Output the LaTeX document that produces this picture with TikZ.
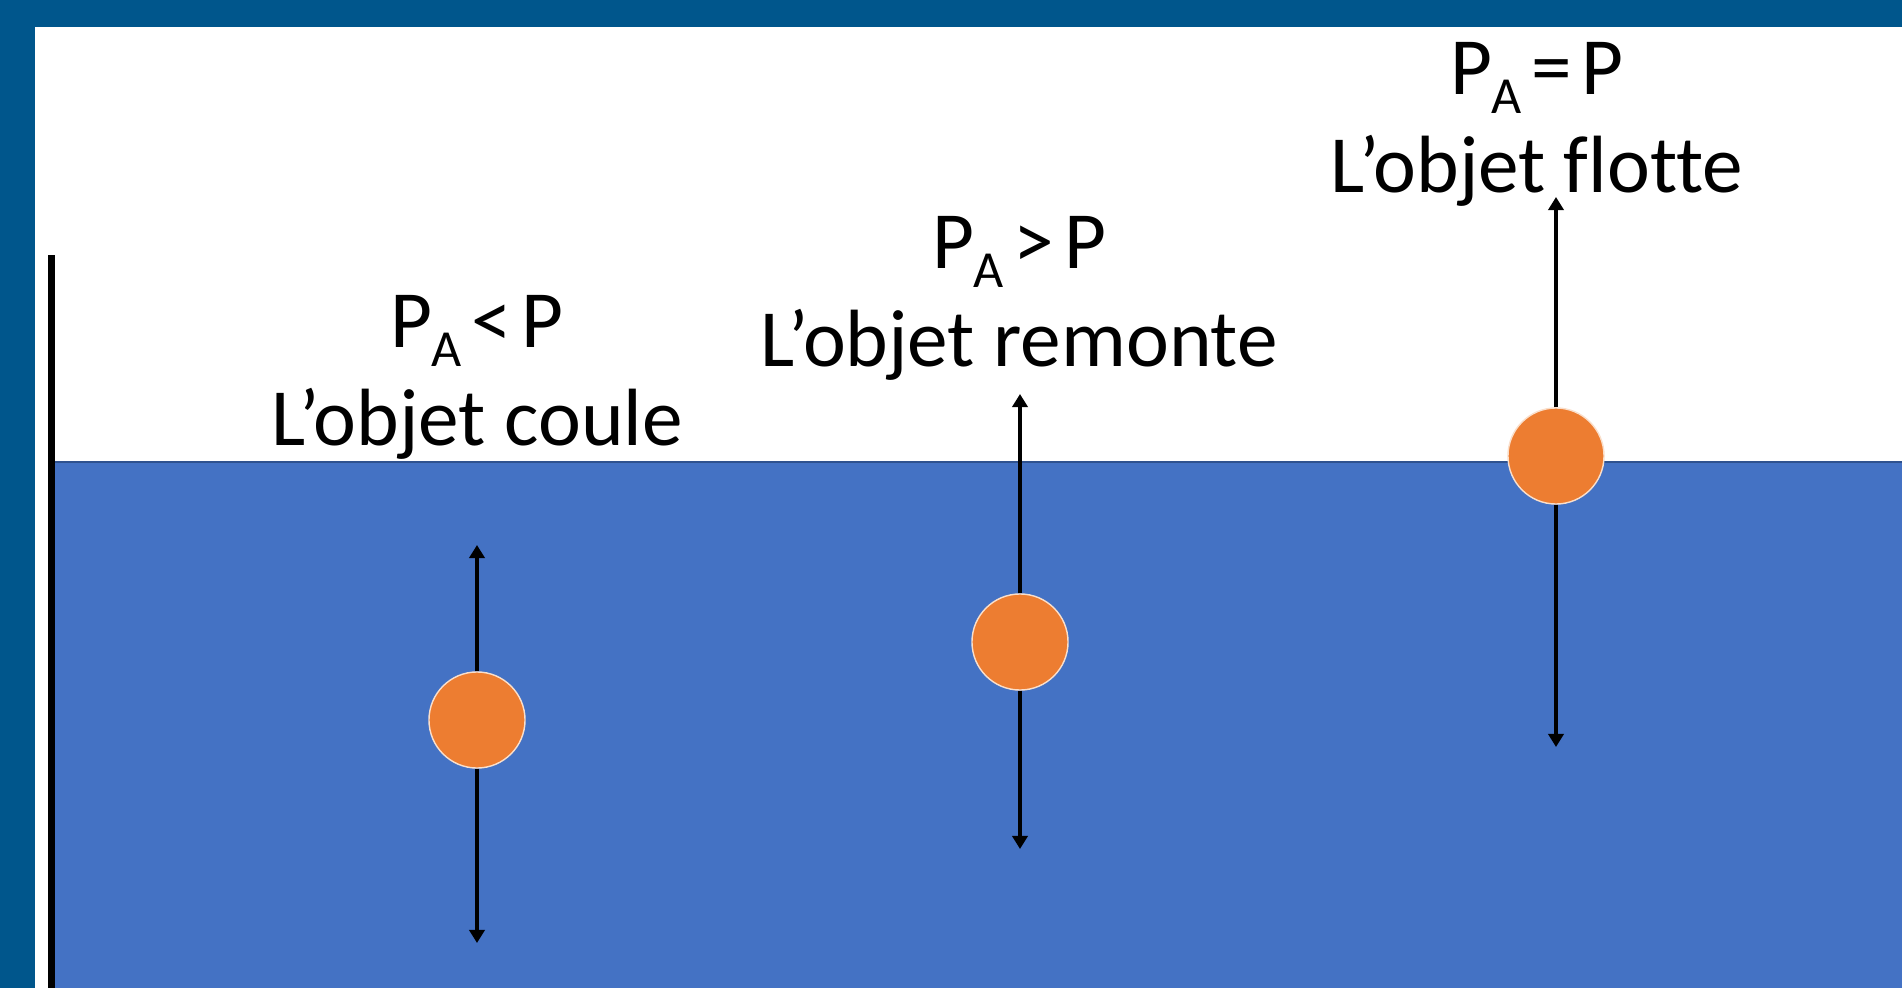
\documentclass[tikz,border=0pt]{standalone}
\usepackage{fontspec}
\setmainfont{Carlito}[Ligatures=NoCommon]
\usepackage{xcolor}
\usetikzlibrary{arrows.meta}
\definecolor{cadre}{RGB}{0,86,140}
\definecolor{eau}{RGB}{68,114,196}
\definecolor{surface}{RGB}{47,82,143}
\definecolor{objet}{RGB}{237,125,49}
\newcommand{\indA}{\raisebox{-0.23em}{\fontsize{14.8}{15}\selectfont A}}
\newcommand{\esp}{\hspace{0.12em}}

\begin{document}
\begin{tikzpicture}[x=0.01cm,y=-0.01cm,
    ball/.style={circle,fill=objet,draw=white!75!objet,line width=0.4pt,inner sep=0,minimum size=0.96cm},
    force/.style={-{Triangle[width=4.3pt,length=3.7pt]},line width=1.1pt,black},
    legende/.style={align=center,font=\fontsize{23.1}{27.9}\selectfont,inner sep=0,anchor=north}]
        \useasboundingbox (0,0) rectangle (1902,988);
        \fill[white] (0,0) rectangle (1902,988);
        \fill[cadre] (0,0) rectangle (1902,27);
        \fill[cadre] (0,0) rectangle (35,988);

        \fill[eau] (55,462) rectangle (1902,988);
        \draw[surface,line width=0.5pt] (55,462)--(1902,462);
        \fill[black] (48,255) rectangle (55,988);

        \node[ball] (b1) at (477,720) {};
        \node[ball] (b2) at (1020,642) {};
        \node[ball] (b3) at (1556,456) {};

        \coordinate (h1) at (477,545);
        \coordinate (d1) at (477,943);
        \coordinate (h2) at (1020,394);
        \coordinate (d2) at (1020,849);
        \coordinate (h3) at (1556,197);
        \coordinate (d3) at (1556,747);

        \draw[force] (b1.north)--(h1);
        \draw[force] (b1.south)--(d1);
        \draw[force] (b2.north)--(h2);
        \draw[force] (b2.south)--(d2);
        \draw[force] (b3.north)--(h3);
        \draw[force] (b3.south)--(d3);

        \node[legende] (t1) at (477,295) {P\indA\esp<\esp P\\L’objet coule};
        \node[legende] (t2) at (1019,216) {P\indA\esp>\esp P\\L’objet remonte};
        \node[legende] (t3) at (1537,42) {P\indA\esp=\esp P\\L’objet flotte};
    \end{tikzpicture}
\end{document}
